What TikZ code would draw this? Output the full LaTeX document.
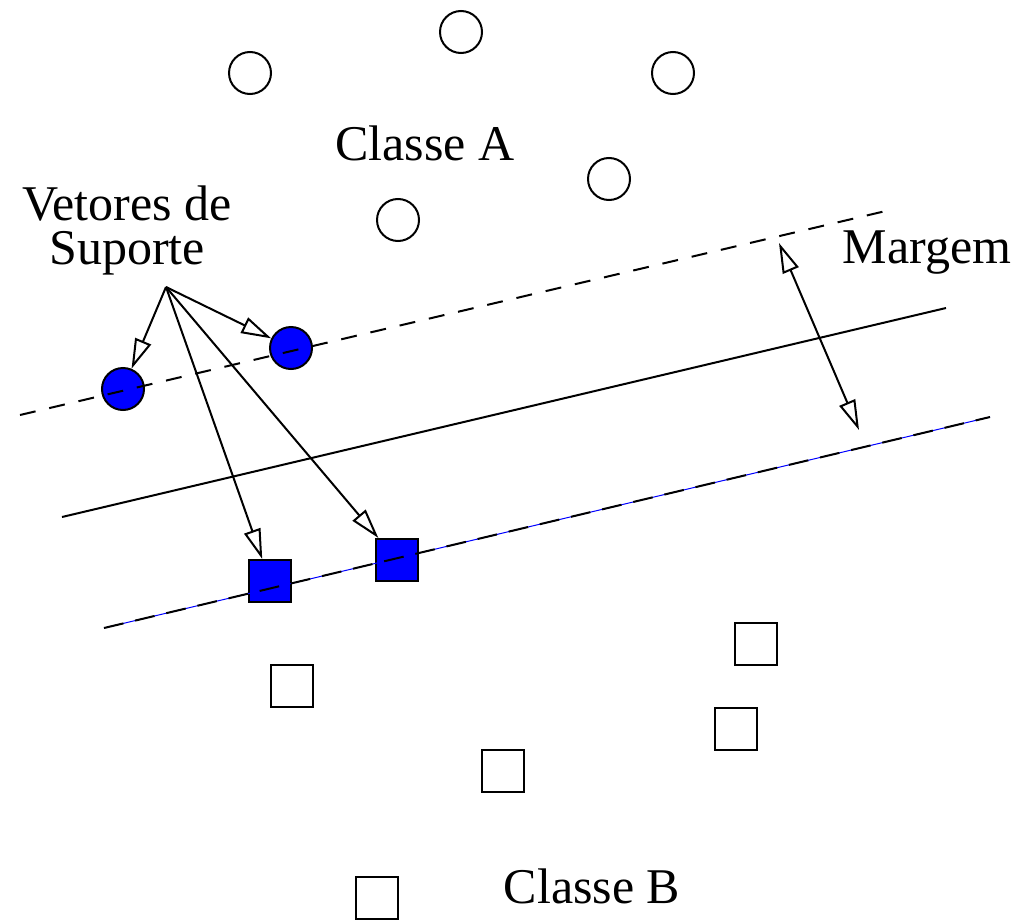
\documentclass[tikz,border=0pt]{standalone}
\usepackage{fontspec}
\setmainfont{Liberation Serif}
\usetikzlibrary{arrows.meta}
\definecolor{SVblue}{HTML}{0000FF}
\tikzset{
  ptA/.style={circle, draw, line width=1pt, minimum size=21pt, inner sep=0pt, fill=white},
  ptAsv/.style={ptA, fill=SVblue},
  ptB/.style={rectangle, draw, line width=1pt, minimum size=21pt, inner sep=0pt, fill=white},
  ptBsv/.style={ptB, fill=SVblue},
  lbl/.style={font=\fontsize{25}{22}\selectfont, inner sep=0pt, align=center},
  svarr/.style={-{Triangle[open, length=15pt, width=8.5pt]}, line width=1pt},
  mgarr/.style={{Triangle[open, length=15pt, width=8.5pt]}-{Triangle[open, length=15pt, width=8.5pt]}, line width=1pt},
  hyper/.style={line width=1pt},
  margline/.style={line width=1pt, dash pattern=on 8pt off 7pt},
}

\begin{document}
\begin{tikzpicture}[x=0.5pt, y=-0.5pt]
  \useasboundingbox (0,0) rectangle (1021,920);
  %% Classe A
  \node[ptA] (ca1) at (461,32) {};
  \node[ptA] (ca2) at (250,73) {};
  \node[ptA] (ca3) at (673,73) {};
  \node[ptA] (ca4) at (609,179) {};
  \node[ptA] (ca5) at (398,220) {};
  \node[ptAsv] (sv1) at (123,389) {};
  \node[ptAsv] (sv2) at (291,348) {};
  %% Classe B
  \node[ptBsv] (sv3) at (270,581) {};
  \node[ptBsv] (sv4) at (397,560) {};
  \node[ptB] (cb1) at (756,644) {};
  \node[ptB] (cb2) at (292,686) {};
  \node[ptB] (cb3) at (736,729) {};
  \node[ptB] (cb4) at (503,771) {};
  \node[ptB] (cb5) at (377,898) {};
  %% Labels
  \node[lbl] (lA) at (425,143) {Classe A};
  \node[lbl] (lB) at (592,886) {Classe B};
  \node[lbl, anchor=base] (lM) at (927,263) {Margem};
  \node[lbl] (lV) at (127,230) {Vetores de\\Suporte};
  %% Hyperplanes
  \coordinate (up1) at (20,415);  \coordinate (up2) at (890,210);
  \coordinate (hp1) at (62,517);  \coordinate (hp2) at (946,308);
  \coordinate (lo1) at (104,628); \coordinate (lo2) at (990,417);
  \draw[margline] (up1) -- (up2);
  \draw[hyper] (hp1) -- (hp2);
  \draw[SVblue, line width=0.5pt] (lo1) -- (lo2);
  \draw[margline, dash pattern=on 10pt off 6pt] (lo1) -- (lo2);
  %% Arrows
  \coordinate (vs) at (166,287);
  \draw[svarr] (vs) -- (sv1);
  \draw[svarr] (vs) -- (sv2);
  \draw[svarr] (vs) -- (sv3);
  \draw[svarr] (vs) -- (sv4);
  \coordinate (m1) at (779,243);
  \coordinate (m2) at (859,430);
  \draw[mgarr] (m1) -- (m2);
\end{tikzpicture}
\end{document}
